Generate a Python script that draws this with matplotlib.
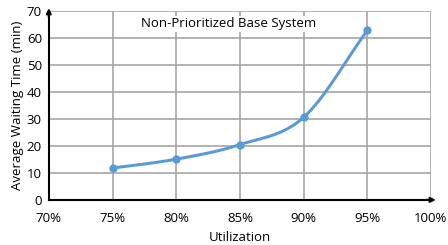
import matplotlib
matplotlib.use('Agg')
import matplotlib.pyplot as plt
import numpy as np

utilization = [75, 80, 85, 90, 95]
wait_time = [11.8, 15.1, 20.5, 30.6, 62.8]
x_ticks = [70, 75, 80, 85, 90, 95, 100]
y_ticks = [0, 10, 20, 30, 40, 50, 60, 70]


def smooth(xs, ys, n=30, t=0.5):
    # Catmull-Rom style curve through the points, like Excel's smoothed line
    xs, ys = np.asarray(xs, float), np.asarray(ys, float)
    px = np.concatenate([[2 * xs[0] - xs[1]], xs, [2 * xs[-1] - xs[-2]]])
    py = np.concatenate([[2 * ys[0] - ys[1]], ys, [2 * ys[-1] - ys[-2]]])
    ox, oy = [], []
    s = np.linspace(0, 1, n)
    for i in range(1, len(px) - 2):
        for p, o in ((px, ox), (py, oy)):
            m1 = t * (p[i + 1] - p[i - 1])
            m2 = t * (p[i + 2] - p[i])
            h00 = 2 * s**3 - 3 * s**2 + 1
            h10 = s**3 - 2 * s**2 + s
            h01 = -2 * s**3 + 3 * s**2
            h11 = s**3 - s**2
            o.extend(h00 * p[i] + h10 * m1 + h01 * p[i + 1] + h11 * m2)
    return np.array(ox), np.array(oy)


plt.rcParams['font.family'] = ['Open Sans', 'DejaVu Sans']
fig = plt.figure(figsize=(4.48, 2.45), dpi=100)
ax = fig.add_axes([0.109, 0.184, 0.853, 0.771])

sx, sy = smooth(utilization, wait_time)
ax.plot(sx, sy, color='#5B9BD5', lw=2.2, zorder=3)
ax.plot(utilization, wait_time, 'o', color='#5B9BD5', ms=5, zorder=4)

ax.set_xlim(70, 100)
ax.set_ylim(0, 70)
ax.set_xticks(x_ticks)
ax.set_xticklabels([f'{v}%' for v in x_ticks])
ax.set_yticks(y_ticks)
ax.grid(True, color='#A6A6A6', lw=1.2)
ax.set_axisbelow(True)
ax.tick_params(length=0, labelsize=9.5)
ax.tick_params(axis='x', pad=9)
ax.tick_params(axis='y', pad=5)
for s in ['top', 'right']:
    ax.spines[s].set_visible(False)
for s in ['left', 'bottom']:
    ax.spines[s].set_linewidth(1.5)
    ax.spines[s].set_zorder(5)

# arrow heads on the axes
ax.annotate('', xy=(0, 1.03), xytext=(0, 0.95), xycoords='axes fraction',
            arrowprops=dict(arrowstyle='-|>', color='black', lw=1.5, mutation_scale=7),
            annotation_clip=False)
ax.annotate('', xy=(1.02, 0), xytext=(0.98, 0), xycoords='axes fraction',
            arrowprops=dict(arrowstyle='-|>', color='black', lw=1.5, mutation_scale=7),
            annotation_clip=False)

ax.set_xlabel('Utilization', fontsize=9.5, labelpad=4)
ax.set_ylabel('Average Waiting Time (min)', fontsize=9.5, labelpad=2)
ax.text(84.1, 65.3, 'Non-Prioritized Base System', ha='center', va='center', fontsize=9.5,
        bbox=dict(facecolor='white', edgecolor='none', pad=1))

fig.savefig('out.png', dpi=100)
